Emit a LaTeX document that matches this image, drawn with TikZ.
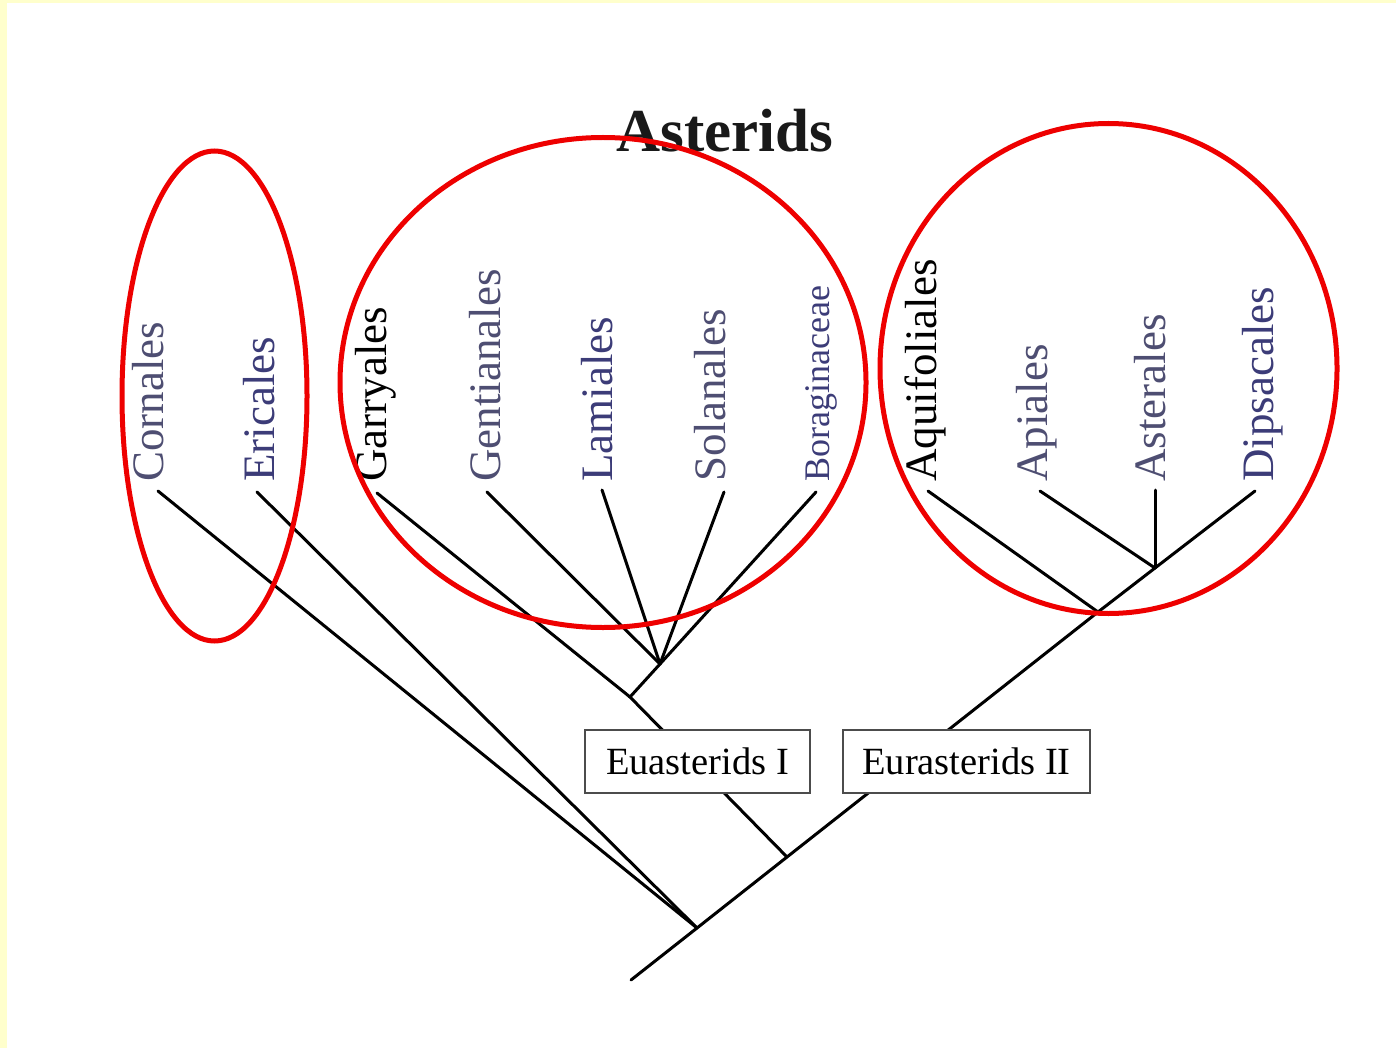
\documentclass[tikz,border=0pt]{standalone}
\usepackage{fontspec}
\setmainfont{Liberation Serif}
\definecolor{bgyellow}{HTML}{FFFFCC}
\definecolor{lblue}{HTML}{3C3C78}
\definecolor{lgrey}{HTML}{4E4E72}
\definecolor{ringred}{HTML}{EE0000}
\tikzset{
  branch/.style={line width=3pt, black, line cap=round},
  lbl/.style={rotate=90, anchor=base west, inner sep=0pt, font=\fontsize{45}{50}\selectfont},
  clade/.style={draw=black!70, line width=1.5pt, fill=white, minimum height=63pt, inner sep=0pt, font=\fontsize{38.5}{42}\selectfont},
  ring/.style={draw=ringred, line width=5pt}
}
\begin{document}
\begin{tikzpicture}[x=1pt,y=-1pt]
\useasboundingbox (0,0) rectangle (1396,1048);
\fill[bgyellow] (0,0) rectangle (1396,1048);
\fill[white] (7,3) rectangle (1396,1048);

% title
\node[font=\bfseries\fontsize{61}{66}\selectfont, anchor=base, inner sep=0pt, text=black!90] (title) at (725,152) {Asterids};

% labels
\node[lbl, text=lgrey] (tCorn) at (163,482) {Cornales};
\node[lbl, text=lblue] (tEric) at (274,482) {Ericales};
\node[lbl, text=black] (tGarr) at (386,482) {Garryales};
\node[lbl, text=lgrey] (tGent) at (500,482) {Gentianales};
\node[lbl, text=lblue] (tLami) at (612,482) {Lamiales};
\node[lbl, text=lgrey] (tSola) at (725,482) {Solanales};
\node[lbl, text=lblue, font=\fontsize{36}{40}\selectfont] (tBora) at (829,482) {Boraginaceae};
\node[lbl, text=black] (tAqui) at (936,482) {Aquifoliales};
\node[lbl, text=lgrey] (tApia) at (1047,482) {Apiales};
\node[lbl, text=lgrey] (tAste) at (1165,482) {Asterales};
\node[lbl, text=lblue] (tDips) at (1273,482) {Dipsacales};

% leaf tips
\coordinate (lCorn) at (158,491);
\coordinate (lEric) at (257,492);
\coordinate (lGarr) at (377,493);
\coordinate (lGent) at (487,492);
\coordinate (lLami) at (602,490);
\coordinate (lSola) at (724,492);
\coordinate (lBora) at (816,492);
\coordinate (lAqui) at (928,491);
\coordinate (lApia) at (1040,491);
\coordinate (lAste) at (1155,490);
\coordinate (lDips) at (1255,491);

% internal nodes
\coordinate (root) at (631,980);
\coordinate (R) at (697,928);
\coordinate (EJ) at (787,857);
\coordinate (EI) at (630,697);
\coordinate (P) at (660,664);
\coordinate (EII) at (1098,612);
\coordinate (A) at (1155,568);

% branches
\draw[branch] (root) -- (R) -- (EJ) -- (EII) -- (A) -- (lDips);
\draw[branch] (lCorn) -- (R);
\draw[branch] (lEric) -- (R);
\draw[branch] (EJ) -- (EI) -- (P);
\draw[branch] (lGarr) -- (EI);
\draw[branch] (lGent) -- (P);
\draw[branch] (lLami) -- (P);
\draw[branch] (lSola) -- (P);
\draw[branch] (lBora) -- (P);
\draw[branch] (lAqui) -- (EII);
\draw[branch] (lApia) -- (A);
\draw[branch] (lAste) -- (A);

% clade boxes
\node[clade, minimum width=225pt] (bEI) at (697.5,761.5) {Euasterids I};
\node[clade, minimum width=247pt] (bEII) at (966.5,761.5) {Eurasterids II};

% rings
\draw[ring] (214.5,396) ellipse [x radius=92.5, y radius=245];
\draw[ring] (603,382.5) ellipse [x radius=263, y radius=245];
\draw[ring] (1108.5,368.5) ellipse [x radius=228.5, y radius=245];
\end{tikzpicture}
\end{document}
